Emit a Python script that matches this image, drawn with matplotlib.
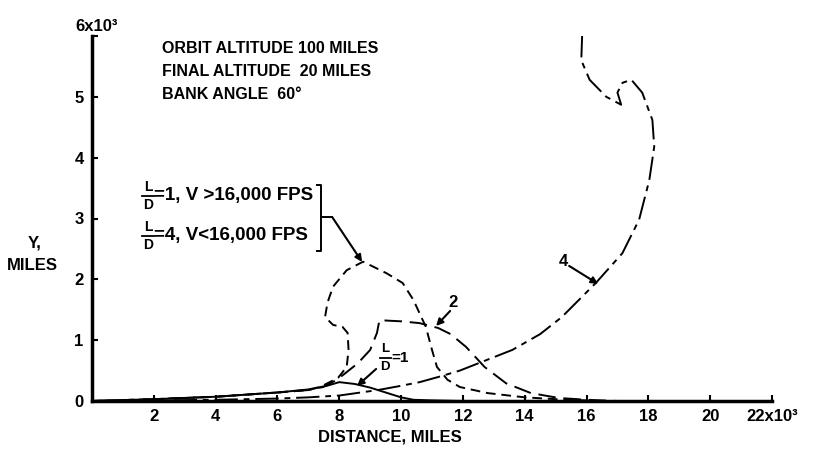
import numpy as np
import matplotlib
matplotlib.use("Agg")
import matplotlib.pyplot as plt

plt.rcParams['font.family'] = ['Liberation Sans', 'DejaVu Sans']
plt.rcParams['font.weight'] = 'bold'

# ---------------- DATA (distance x10^3 miles, Y x10^3 miles) ----------------
# L/D = 1
ld1_x = [0, 2, 4, 6, 7, 7.6, 8.0, 8.5, 9.0, 9.5, 10.0, 10.4, 11, 12]
ld1_y = [0, 0.03, 0.07, 0.14, 0.19, 0.25, 0.31, 0.28, 0.22, 0.14, 0.06, 0.02, 0.01, 0]

# L/D = 2
ld2_x = [0, 2, 4, 6, 7, 7.48, 7.93, 8.6, 9.0, 9.22, 9.3, 9.6, 10.0, 10.6,
         11.2, 11.6, 12.1, 12.7, 13.4, 14.2, 15.1, 16, 17]
ld2_y = [0, 0.03, 0.07, 0.14, 0.18, 0.23, 0.35, 0.62, 0.84, 1.12, 1.33, 1.32,
         1.31, 1.28, 1.2, 1.1, 0.89, 0.56, 0.29, 0.13, 0.05, 0.02, 0]

# L/D = 1 above 16,000 fps, L/D = 4 below
mix_x = [0, 2, 4, 6, 7, 7.38, 7.96, 8.24, 8.3, 8.27, 8.1, 7.8, 7.54, 7.62,
         7.8, 8.24, 8.77, 9.53, 10.05, 10.4, 10.8, 11.0, 11.16, 11.5, 11.9,
         12.8, 14.0, 15.0, 16.0]
mix_y = [0, 0.03, 0.07, 0.14, 0.18, 0.23, 0.38, 0.56, 0.84, 1.12, 1.22, 1.25,
         1.38, 1.62, 1.88, 2.15, 2.29, 2.1, 1.94, 1.66, 1.22, 0.84, 0.56, 0.35,
         0.23, 0.13, 0.06, 0.03, 0.01]

# L/D = 4
ld4_x = [0, 2, 4, 6, 7, 8, 9.25, 10.0, 10.6, 11.24, 11.9, 12.5, 13.6, 14.5,
         15.2, 16.3, 17.16, 17.7, 18.03, 18.19, 18.13, 17.8, 17.45, 17.16,
         17.0, 17.12, 16.64, 16.1, 15.83, 15.86]
ld4_y = [0, 0.01, 0.02, 0.04, 0.06, 0.09, 0.18, 0.25, 0.31, 0.4, 0.5, 0.62,
         0.84, 1.1, 1.38, 1.94, 2.43, 2.98, 3.63, 4.18, 4.62, 5.07, 5.28,
         5.23, 5.07, 4.87, 5.0, 5.28, 5.6, 6.05]

x_ticks = [2, 4, 6, 8, 10, 12, 14, 16, 18, 20, 22]
x_labels = ['2', '4', '6', '8', '10', '12', '14', '16', '18', '20', '22x10³']
y_ticks = [0, 1, 2, 3, 4, 5, 6]
y_labels = ['0', '1', '2', '3', '4', '5', '']

# ---------------- PLOT ----------------
fig = plt.figure(figsize=(8.17, 4.5), dpi=100)
ax = fig.add_axes([92/817, 49/450, 680/817, 365/450])

lw = 1.4
ax.plot(ld1_x, ld1_y, color='black', lw=lw)
ax.plot(ld2_x, ld2_y, color='black', lw=lw, linestyle=(0, (9, 4)))
ax.plot(mix_x, mix_y, color='black', lw=lw, linestyle=(0, (5, 3)))
ax.plot(ld4_x, ld4_y, color='black', lw=lw, linestyle=(0, (12, 3, 3, 3)))

ax.set_xlim(0, 22)
ax.set_ylim(0, 6)
for s in ['top', 'right']:
    ax.spines[s].set_visible(False)
for s in ['left', 'bottom']:
    ax.spines[s].set_linewidth(2.5)

ax.set_xticks(x_ticks)
ax.set_xticklabels(x_labels)
ax.set_yticks(y_ticks)
ax.set_yticklabels(y_labels)
ax.tick_params(direction='in', length=4, width=1.5, labelsize=12, pad=6)
for t in ax.get_xticklabels() + ax.get_yticklabels():
    t.set_fontweight('bold')

ax.text(-0.55, 6.03, '6x10³', fontsize=12, fontweight='bold', ha='left', va='bottom')
fig.text(390/817, 1 - 437/450, 'DISTANCE, MILES', fontsize=12, fontweight='bold',
         ha='center', va='center')
fig.text(35/817, 1 - 243/450, 'Y,', fontsize=12, fontweight='bold', ha='center', va='center')
fig.text(32/817, 1 - 265/450, 'MILES', fontsize=12, fontweight='bold', ha='center', va='center')

# conditions
cond = ['ORBIT ALTITUDE 100 MILES', 'FINAL ALTITUDE  20 MILES', 'BANK ANGLE  60°']
for i, c in enumerate(cond):
    ax.text(2.27, 5.8 - i * 0.38, c, fontsize=11.5, fontweight='bold', va='center')

# ---------------- LABELS ----------------
def px(x, y):
    return ((x - 92) / 30.9, (401 - y) / 60.8)


def frac(xp, yp, rest, size=13.5, fsize=10):
    x0, y0 = px(xp, yp)
    ax.text(x0, y0 + 0.15, 'L', fontsize=fsize, fontweight='bold', ha='center', va='center')
    ax.text(x0, y0 - 0.15, 'D', fontsize=fsize, fontweight='bold', ha='center', va='center')
    ax.plot([x0 - 0.18, x0 + 0.18], [y0, y0], color='black', lw=1.3)
    ax.text(x0 + 0.2, y0, rest, fontsize=size, fontweight='bold', ha='left', va='center')


frac(148, 196, '=1, V >16,000 FPS')
frac(148, 236, '=4, V<16,000 FPS')

# bracket
bx, by_top = px(321, 185)
_, by_bot = px(321, 251)
_, by_mid = px(321, 217)
ax.plot([bx - 0.12, bx, bx, bx - 0.12], [by_top, by_top, by_bot, by_bot], color='black', lw=1.4)
mx, _ = px(332, 217)
ax.plot([bx, mx], [by_mid, by_mid], color='black', lw=1.4)

arrow = dict(arrowstyle='-|>', lw=1.5, color='black', mutation_scale=10, shrinkA=0, shrinkB=0)
ax.annotate('', xy=px(362, 262), xytext=(mx, by_mid), arrowprops=arrow)

ax.text(*px(453, 303), '2', fontsize=12, fontweight='bold', ha='center', va='center')
ax.annotate('', xy=px(436, 326), xytext=px(450, 311), arrowprops=arrow)

ax.text(*px(563, 262), '4', fontsize=12, fontweight='bold', ha='center', va='center')
ax.annotate('', xy=px(598, 284), xytext=px(569, 266), arrowprops=arrow)

frac(385, 358, '=1', size=11, fsize=9.5)
ax.annotate('', xy=px(357, 386), xytext=px(376, 369), arrowprops=arrow)

fig.savefig('out.png', dpi=100)
